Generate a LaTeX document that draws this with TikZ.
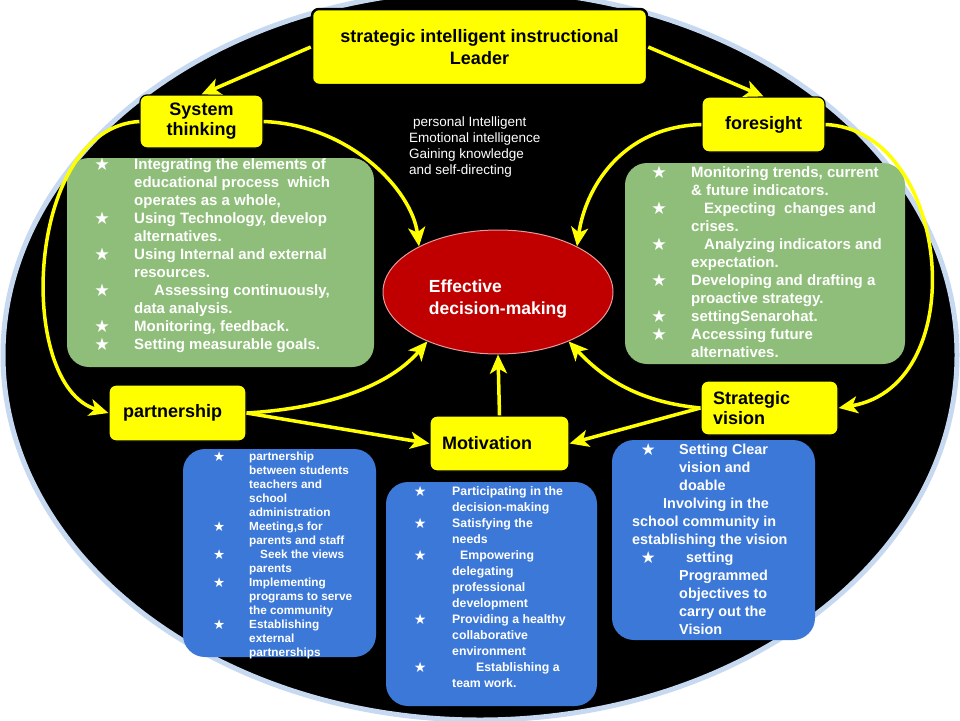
\documentclass[tikz,border=0pt]{standalone}
\usepackage{fontspec}
\setmainfont{Liberation Sans}
\newfontfamily\symf{DejaVu Sans}
\usepackage{array}
\usepackage{graphicx}
\usetikzlibrary{arrows.meta,shapes.geometric}
\definecolor{ybox}{RGB}{255,255,0}
\definecolor{gbox}{RGB}{143,190,122}
\definecolor{bbox}{RGB}{60,120,215}
\definecolor{rdm}{RGB}{192,0,0}
\definecolor{ring}{RGB}{198,217,240}
\newcommand\sx{\smash{\raisebox{-0.04em}{\scalebox{1.15}{\symf ★}}}}
\begin{document}
\begin{tikzpicture}[x=1pt,y=-1pt,
  ybx/.style={draw=black, line width=1.2pt, fill=ybox, rounded corners=7pt,
    font=\bfseries\fontsize{18}{20}\selectfont, inner sep=0pt},
  arr/.style={draw=ybox, line width=3.5pt, -{Stealth[length=19pt,width=17pt,inset=5pt]}},
  panel/.style={rounded corners=22pt, draw=none, inner sep=0pt},
  txt/.style={text=white, anchor=north west, inner sep=0pt}
]
\fill[white] (0,0) rectangle (960,720);
\useasboundingbox (0,0) rectangle (960,720);
\draw[fill=black, draw=ring, line width=5pt] (480,355) ellipse [x radius=477, y radius=365];

% panels
\node[panel, fill=gbox, minimum width=307pt, minimum height=209pt] (gl) at (220.5,262.5) {};
\node[panel, fill=gbox, minimum width=280pt, minimum height=201pt] (gr) at (765,263.5) {};
\node[panel, fill=bbox, minimum width=193pt, minimum height=208pt] (bp) at (279.5,553) {};
\node[panel, fill=bbox, minimum width=211pt, minimum height=224pt] (bm) at (491.5,594) {};
\node[panel, fill=bbox, minimum width=203pt, minimum height=200pt] (bs) at (713.5,540) {};

% centre
\node[ellipse, fill=rdm, draw=white!60!rdm, line width=1pt, minimum width=230pt, minimum height=124pt, inner sep=0pt] (dm) at (498,292) {};
\node[text=white, font=\bfseries\fontsize{17.5}{22}\selectfont, align=left, inner sep=0pt] (dmt) at (498,299) {Effective\\decision-making};

% yellow boxes
\node[ybx, line width=2.5pt, minimum width=335pt, minimum height=76pt, align=center,
  font=\bfseries\fontsize{18}{22}\selectfont] (top) at (479.5,47) {strategic intelligent instructional\\Leader};
\node[ybx, minimum width=123pt, minimum height=53pt, align=center] (sys) at (201.5,121.5) {System\\thinking};
\node[ybx, minimum width=123pt, minimum height=55pt] (fore) at (763.5,124.5) {foresight};
\node[ybx, minimum height=56pt, inner xsep=14pt, text width=109pt, align=left] (part) at (177.5,413) {partnership};
\node[ybx, minimum height=55pt, inner xsep=12pt, text width=115pt, align=left] (mot) at (499.5,443.5) {Motivation};
\node[ybx, minimum height=54pt, inner xsep=12pt, text width=113pt, align=left] (strat) at (769.5,408) {Strategic\\vision};

% connectors
\draw[arr] (top.west) -- (sys.north);
\draw[arr] (top.east) -- (fore.north);
\draw[arr] (sys.east) .. controls (350,125) and (412,190) .. (dm.150);
\draw[arr] (sys.west) .. controls (25,128) and (15,385) .. (part.west);
\draw[arr] (fore.west) .. controls (620,127) and (585,190) .. (dm.30);
\draw[arr] (fore.east) .. controls (950,130) and (975,385) .. (strat.east);
\draw[arr] (part.east) .. controls (330,408) and (390,385) .. (dm.215);
\draw[arr] (part.east) -- (mot.west);
\draw[arr] (mot.north) -- (dm.south);
\draw[arr] (strat.west) .. controls (640,402) and (605,380) .. (dm.325);
\draw[arr] (strat.west) -- (mot.east);

% texts
\node[txt, font=\fontsize{13.5}{16}\selectfont] (pers) at (409,115.3) {\begin{tabular}{@{}l@{}}
\hspace*{4pt}personal Intelligent\\
Emotional intelligence\\
Gaining knowledge\\
and self-directing
\end{tabular}};

\node[txt, font=\bfseries\fontsize{15}{18}\selectfont] (glt) at (92,157) {\begin{tabular}{@{}wc{20pt}@{\hspace{22pt}}l@{}}
\sx & Integrating the elements of\\
 & educational process \ which\\
 & operates as a whole,\\
\sx & Using Technology, develop\\
 & alternatives.\\
\sx & Using Internal and external\\
 & resources.\\
\sx & \hspace*{20pt}Assessing continuously,\\
 & data analysis.\\
\sx & Monitoring, feedback.\\
\sx & Setting measurable goals.
\end{tabular}};

\node[txt, font=\bfseries\fontsize{15}{18}\selectfont] (grt) at (649,165) {\begin{tabular}{@{}wc{20pt}@{\hspace{22pt}}l@{}}
\sx & Monitoring trends, current\\
 & \& future indicators.\\
\sx & \hspace*{13pt}Expecting \ changes and\\
 & crises.\\
\sx & \hspace*{13pt}Analyzing indicators and\\
 & expectation.\\
\sx & Developing and drafting a\\
 & proactive strategy.\\
\sx & settingSenarohat.\\
\sx & Accessing future\\
 & alternatives.
\end{tabular}};

\node[txt, font=\bfseries\fontsize{11.8}{14}\selectfont] (bpt) at (209,450.7) {\begin{tabular}{@{}wc{20pt}@{\hspace{20pt}}l@{}}
\sx & partnership\\
 & between students\\
 & teachers and\\
 & school\\
 & administration\\
\sx & Meeting,s for\\
 & parents and staff\\
\sx & \hspace*{11pt}Seek the views\\
 & parents\\
\sx & Implementing\\
 & programs to serve\\
 & the community\\
\sx & Establishing\\
 & external\\
 & partnerships
\end{tabular}};

\node[txt, font=\bfseries\fontsize{12.3}{16}\selectfont] (bmt) at (410,484.5) {\begin{tabular}{@{}wc{20pt}@{\hspace{22pt}}l@{}}
\sx & Participating in the\\
 & decision-making\\
\sx & Satisfying the\\
 & needs\\
\sx & \hspace*{8pt}Empowering\\
 & delegating\\
 & professional\\
 & development\\
\sx & Providing a healthy\\
 & collaborative\\
 & environment\\
\sx & \hspace*{24pt}Establishing a\\
 & team work.
\end{tabular}};

\node[txt, font=\bfseries\fontsize{14.4}{18}\selectfont] (bst) at (638,441.7) {\begin{tabular}{@{}wc{20pt}@{\hspace{21pt}}l@{}}
\sx & Setting Clear\\
 & vision and\\
 & doable\\
\multicolumn{2}{@{}l@{}}{\hspace*{25pt}Involving in the}\\
\multicolumn{2}{@{\hspace{-6pt}}l@{}}{school community in}\\
\multicolumn{2}{@{\hspace{-6pt}}l@{}}{establishing the vision}\\
\sx & \hspace*{7pt}setting\\
 & Programmed\\
 & objectives to\\
 & carry out the\\
 & Vision
\end{tabular}};
\end{tikzpicture}
\end{document}
